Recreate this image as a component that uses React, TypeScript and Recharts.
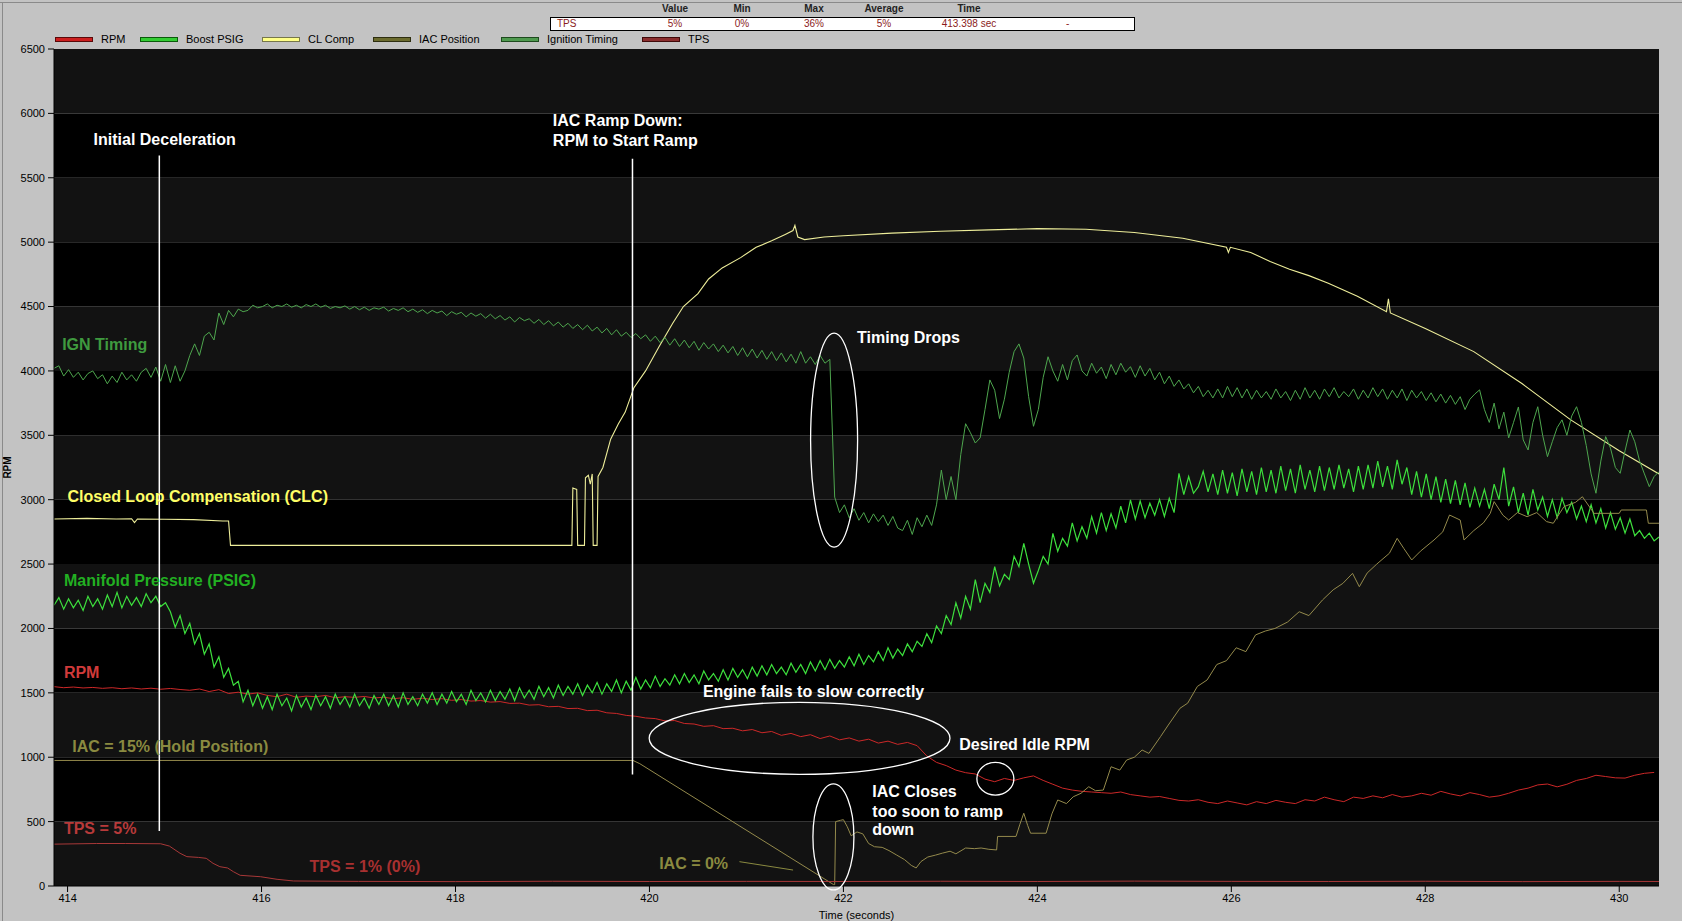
import React from 'react';
import { LineChart, Line, XAxis, YAxis, ReferenceArea, ReferenceLine, ReferenceDot, Label } from 'recharts';

// ---------- data ----------
const T0 = 413.86;
const X_DOMAIN: [number, number] = [413.86, 430.41];
const X_TICKS = [414, 416, 418, 420, 422, 424, 426, 428, 430];
const Y_TICKS = [0, 500, 1000, 1500, 2000, 2500, 3000, 3500, 4000, 4500, 5000, 5500, 6000, 6500];

// Ignition Timing, sampled every 0.05 s from T0
const IGN_STEP = 0.05;
const ignitionTiming = [
  4020, 4040, 3960, 4010, 3950, 3990, 3930, 3980, 4000, 3940,
  3970, 3900, 3960, 3910, 3990, 3930, 3970, 3920, 3990, 4020,
  3950, 4030, 3920, 4050, 3910, 4040, 3920, 4000, 4120, 4210,
  4120, 4270, 4300, 4240, 4450, 4360, 4470, 4420, 4480, 4460,
  4470, 4510, 4490, 4500, 4520, 4490, 4510, 4500, 4520, 4495,
  4510, 4490, 4515, 4500, 4520, 4495, 4510, 4485, 4500, 4490,
  4505, 4480, 4500, 4475, 4495, 4470, 4490, 4480, 4495, 4465,
  4485, 4470, 4490, 4460, 4480, 4455, 4475, 4445, 4470, 4450,
  4465, 4430, 4460, 4440, 4455, 4420, 4450, 4425, 4445, 4410,
  4440, 4405, 4430, 4395, 4420, 4380, 4415, 4390, 4405, 4370,
  4400, 4360, 4390, 4350, 4380, 4340, 4370, 4330, 4360, 4320,
  4355, 4310, 4340, 4295, 4330, 4280, 4320, 4270, 4300, 4260,
  4290, 4250, 4280, 4230, 4270, 4220, 4260, 4200, 4250, 4190,
  4240, 4180, 4230, 4160, 4220, 4170, 4210, 4150, 4200, 4140,
  4190, 4120, 4180, 4110, 4170, 4100, 4160, 4090, 4150, 4080,
  4140, 4070, 4130, 4060, 4150, 4060, 4110, 4050, 4120, 4060,
  4090, 3020, 2900, 2960, 2860, 2930, 2840, 2900, 2820, 2890,
  2830, 2880, 2800, 2870, 2780, 2760, 2840, 2730, 2860, 2790,
  2880, 2800, 2960, 3230, 3000, 3180, 3000, 3350, 3590, 3520,
  3440, 3480, 3700, 3930, 3850, 3630, 3780, 3990, 4150, 4210,
  4100, 3800, 3570, 3700, 3950, 4110, 4000, 3920, 4050, 3930,
  4080, 4124, 4000, 3960, 4060, 3982, 4030, 3940, 4050, 3970,
  4060, 3990, 4033, 3950, 4040, 3960, 4020, 3930, 3990, 3900,
  3960, 3880, 3930, 3860, 3900, 3830, 3880, 3800, 3850, 3790,
  3860, 3790, 3880, 3800, 3870, 3790, 3860, 3780, 3850, 3790,
  3840, 3780, 3860, 3790, 3840, 3770, 3850, 3780, 3870, 3790,
  3850, 3780, 3860, 3800, 3870, 3790, 3840, 3800, 3860, 3780,
  3850, 3790, 3870, 3800, 3860, 3780, 3850, 3790, 3860, 3770,
  3850, 3790, 3840, 3770, 3830, 3760, 3820, 3750, 3810, 3740,
  3800, 3700, 3780, 3820, 3853, 3700, 3600, 3750, 3550, 3680,
  3480, 3600, 3720, 3464, 3386, 3600, 3722, 3500, 3334, 3450,
  3560, 3620, 3500, 3650, 3722, 3600, 3420, 3200, 3050, 3300,
  3490, 3400, 3250, 3205, 3380, 3541, 3450, 3300, 3200, 3101, 3180, 3218,
];

// Boost PSIG (manifold pressure), sampled every 0.05 s from T0
const BOOST_STEP = 0.05;
const boostPsig = [
  2180, 2240, 2150, 2230, 2160, 2220, 2140, 2250, 2170, 2230,
  2150, 2260, 2170, 2280, 2160, 2250, 2180, 2240, 2170, 2270,
  2200, 2250, 2170, 2200, 2130, 2010, 2100, 1960, 2040, 1880,
  1960, 1800, 1880, 1700, 1780, 1620, 1690, 1560, 1590, 1430,
  1520, 1400, 1490, 1380, 1470, 1370, 1490, 1400, 1460, 1360,
  1480, 1390, 1460, 1370, 1480, 1400, 1470, 1380, 1490, 1410,
  1470, 1390, 1490, 1400, 1460, 1380, 1480, 1410, 1490, 1400,
  1480, 1390, 1500, 1410, 1470, 1400, 1490, 1420, 1500, 1410,
  1490, 1420, 1510, 1430, 1490, 1410, 1520, 1440, 1500, 1430,
  1520, 1440, 1510, 1450, 1530, 1440, 1540, 1460, 1520, 1450,
  1550, 1470, 1540, 1460, 1560, 1480, 1550, 1490, 1570, 1480,
  1560, 1500, 1580, 1490, 1570, 1510, 1600, 1500, 1590, 1520,
  1620, 1530, 1600, 1540, 1630, 1550, 1610, 1560, 1640, 1570,
  1650, 1580, 1640, 1570, 1670, 1600, 1650, 1590, 1680, 1600,
  1690, 1620, 1680, 1610, 1700, 1630, 1710, 1640, 1720, 1650,
  1700, 1640, 1730, 1660, 1720, 1650, 1740, 1670, 1750, 1680,
  1760, 1690, 1750, 1700, 1780, 1710, 1800, 1720, 1790, 1740,
  1820, 1750, 1850, 1770, 1840, 1790, 1880, 1820, 1900, 1860,
  1960, 1890, 2020, 1960, 2100, 2030, 2200, 2080, 2250, 2150,
  2380, 2200, 2350, 2280, 2480, 2330, 2420, 2380, 2560, 2480,
  2661, 2500, 2351, 2450, 2560, 2500, 2739, 2600, 2700, 2640,
  2820, 2680, 2790, 2700, 2868, 2740, 2900, 2760, 2890, 2780,
  2950, 2820, 2998, 2850, 2990, 2860, 2972, 2880, 3000, 2870,
  3010, 2900, 3205, 3040, 3180, 3050, 3101, 3220, 3060, 3200,
  3040, 3230, 3050, 3210, 3030, 3240, 3060, 3220, 3040, 3250,
  3060, 3230, 3050, 3260, 3070, 3240, 3050, 3270, 3080, 3230,
  3060, 3260, 3070, 3250, 3080, 3270, 3090, 3240, 3060, 3260,
  3080, 3270, 3090, 3300, 3100, 3260, 3080, 3310, 3120, 3250,
  3040, 3220, 3020, 3200, 3000, 3180, 2980, 3160, 2970, 3150,
  2960, 3130, 2940, 3090, 2950, 3080, 2930, 3120, 3000, 3250,
  2950, 3100, 2900, 3050, 2880, 3080, 2920, 3020, 2870, 3000,
  2860, 3010, 2900, 2980, 2850, 2950, 2830, 2960, 2820, 2930,
  2780, 2900, 2770, 2860, 2740, 2850, 2720, 2760, 2700, 2740, 2680, 2710,
];

// RPM, sampled every 0.1 s from T0
const RPM_STEP = 0.1;
const rpm = [
  1548, 1540, 1545, 1538, 1542, 1535, 1540, 1532, 1538, 1530,
  1536, 1528, 1534, 1526, 1520, 1530, 1510, 1525, 1495, 1505,
  1490, 1500, 1480, 1470, 1490, 1465, 1475, 1470, 1480, 1462,
  1470, 1465, 1472, 1460, 1466, 1455, 1462, 1450, 1458, 1448,
  1455, 1442, 1448, 1436, 1440, 1428, 1432, 1418, 1420, 1405,
  1408, 1392, 1395, 1378, 1380, 1362, 1365, 1345, 1340, 1325,
  1318, 1305, 1300, 1282, 1285, 1262, 1258, 1240, 1245, 1222,
  1225, 1205, 1215, 1190, 1200, 1170, 1185, 1160, 1175, 1145,
  1165, 1135, 1150, 1125, 1140, 1110, 1125, 1100, 1115, 1090,
  1010, 960, 935, 900, 880, 870, 830, 810, 835, 820,
  840, 855, 820, 790, 760, 745, 735, 730, 725, 720,
  730, 710, 700, 690, 695, 680, 665, 660, 670, 650,
  640, 660, 645, 630, 655, 640, 665, 650, 640, 670,
  660, 690, 670, 655, 690, 680, 700, 685, 710, 690,
  700, 720, 705, 735, 715, 700, 725, 710, 690, 700,
  720, 745, 760, 785, 792, 770, 790, 820, 835, 860,
  850, 840, 838, 860, 875, 882,
];

// CL Comp: [time, value]
const clComp: [number, number][] = [
  [413.86, 2850], [414.2, 2855], [414.5, 2850], [414.66, 2852], [414.69, 2822], [414.72, 2850],
  [415.0, 2848], [415.3, 2845], [415.6, 2835], [415.66, 2835], [415.68, 2645], [419.2, 2645],
  [419.21, 3090], [419.25, 3080], [419.26, 2645], [419.33, 2645], [419.34, 3170], [419.37, 3190],
  [419.39, 3120], [419.41, 3200], [419.42, 2645], [419.46, 2645], [419.47, 3180], [419.52, 3250],
  [419.6, 3470], [419.68, 3590], [419.75, 3680], [419.84, 3870], [419.96, 4000], [420.1, 4190],
  [420.24, 4370], [420.35, 4500], [420.5, 4600], [420.61, 4714], [420.75, 4800], [420.94, 4880],
  [421.1, 4960], [421.26, 5010], [421.4, 5060], [421.48, 5090], [421.5, 5130], [421.53, 5040],
  [421.6, 5020], [421.8, 5040], [422.0, 5050], [422.5, 5070], [423.0, 5085], [423.5, 5095],
  [424.0, 5105], [424.5, 5100], [425.0, 5075], [425.5, 5030], [425.95, 4960], [425.97, 4920],
  [425.99, 4960], [426.2, 4920], [426.4, 4850], [426.6, 4790], [426.8, 4740], [427.0, 4680],
  [427.3, 4580], [427.6, 4460], [427.62, 4560], [427.64, 4450], [428.0, 4330], [428.5, 4150],
  [429.0, 3900], [429.5, 3620], [430.0, 3380], [430.41, 3200],
];

// IAC Position: [time, value]
const iacPosition: [number, number][] = [
  [413.86, 975], [419.83, 975], [419.9, 950], [421.9, 10], [421.91, 10], [421.92, 500],
  [421.97, 510], [422.0, 515], [422.04, 460], [422.08, 390], [422.14, 420], [422.2, 405],
  [422.26, 330], [422.32, 305], [422.4, 300], [422.47, 275], [422.55, 240], [422.63, 205],
  [422.7, 160], [422.75, 140], [422.8, 190], [422.87, 225], [422.95, 240], [423.02, 255],
  [423.1, 270], [423.16, 250], [423.26, 295], [423.35, 290], [423.42, 295], [423.5, 285],
  [423.58, 280], [423.59, 385], [423.78, 385], [423.82, 480], [423.86, 565], [423.9, 470],
  [423.93, 410], [424.09, 410], [424.15, 560], [424.21, 668], [424.3, 640], [424.37, 693],
  [424.45, 720], [424.53, 771], [424.6, 740], [424.68, 745], [424.76, 926], [424.85, 900],
  [424.92, 978], [425.0, 1000], [425.08, 1056], [425.15, 1030], [425.27, 1160], [425.35, 1250],
  [425.47, 1380], [425.55, 1420], [425.65, 1550], [425.75, 1600], [425.85, 1720], [425.95, 1750],
  [426.05, 1850], [426.15, 1820], [426.25, 1950], [426.35, 1980], [426.45, 2000], [426.58, 2050],
  [426.7, 2130], [426.8, 2100], [426.94, 2221], [427.05, 2300], [427.15, 2350], [427.25, 2428],
  [427.32, 2324], [427.4, 2430], [427.5, 2500], [427.63, 2584], [427.71, 2700], [427.78, 2620],
  [427.86, 2532], [427.95, 2600], [428.09, 2687], [428.18, 2750], [428.25, 2881], [428.36, 2842],
  [428.4, 2687], [428.5, 2760], [428.6, 2820], [428.67, 2894], [428.71, 2985], [428.8, 2880],
  [428.86, 2842], [428.95, 2900], [429.05, 2868], [429.15, 2900], [429.25, 2830], [429.32, 2817],
  [429.43, 2946], [429.55, 2980], [429.62, 3023], [429.74, 2894], [430.0, 2894], [430.02, 2920],
  [430.28, 2920], [430.3, 2817], [430.41, 2817],
];

// TPS: [time, value]
const tps: [number, number][] = [
  [413.86, 325], [414.3, 330], [414.6, 330], [414.96, 328], [415.05, 310], [415.16, 254],
  [415.23, 228], [415.35, 222], [415.43, 215], [415.5, 176], [415.57, 150], [415.65, 140],
  [415.71, 111], [415.78, 83], [415.99, 72], [416.16, 52], [416.33, 39], [417, 36], [418, 34],
  [419, 37], [420, 35], [421, 36], [422, 35], [423, 37], [424, 35], [425, 38], [426, 36],
  [427, 35], [428, 37], [429, 34], [430, 36], [430.41, 35],
];

// stats box
const STAT_HEADERS = ['Value', 'Min', 'Max', 'Average', 'Time'];
const STAT_ROW = { name: 'TPS', values: ['5%', '0%', '36%', '5%', '413.398 sec'], extra: '-' };

// ---------- build ----------
const sampled = (vals: number[], step: number) => vals.map((v, i) => ({ t: +(T0 + i * step).toFixed(3), v }));
const pairs = (arr: [number, number][]) => arr.map(([t, v]) => ({ t, v }));

const SERIES = [
  { name: 'RPM', color: '#cc2828', swatch: '#cc1f1f', border: '#5a0a0a', data: sampled(rpm, RPM_STEP), w: 1 },
  { name: 'Boost PSIG', color: '#3de03d', swatch: '#33cc33', border: '#0a5a0a', data: sampled(boostPsig, BOOST_STEP), w: 1.2 },
  { name: 'CL Comp', color: '#eeee9a', swatch: '#ffff88', border: '#77774a', data: pairs(clComp), w: 1.1 },
  { name: 'IAC Position', color: '#948a4c', swatch: '#6b6b2e', border: '#2e2e10', data: pairs(iacPosition), w: 1 },
  { name: 'Ignition Timing', color: '#4ea64e', swatch: '#4f9a4f', border: '#1e4a1e', data: sampled(ignitionTiming, IGN_STEP), w: 1 },
  { name: 'TPS', color: '#a83838', swatch: '#8b2e2e', border: '#400a0a', data: pairs(tps), w: 1 },
];

const FONT = "'Liberation Sans', Arial, sans-serif";

// annotations in data coordinates
const TEXTS: { t: number; v: number; text: string; color: string }[] = [
  { t: 414.268, v: 5799, text: 'Initial Deceleration', color: '#ffffff' },
  { t: 419.004, v: 5941, text: 'IAC Ramp Down:', color: '#ffffff' },
  { t: 419.004, v: 5790, text: 'RPM to Start Ramp', color: '#ffffff' },
  { t: 422.141, v: 4258, text: 'Timing Drops', color: '#ffffff' },
  { t: 413.944, v: 4207, text: 'IGN Timing', color: '#3f9a3f' },
  { t: 414.0, v: 3023, text: 'Closed Loop Compensation (CLC)', color: '#ffff66' },
  { t: 413.963, v: 2369, text: 'Manifold Pressure (PSIG)', color: '#22b022' },
  { t: 413.962, v: 1660, text: 'RPM', color: '#d03a3a' },
  { t: 414.048, v: 1082, text: 'IAC = 15% (Hold Position)', color: '#8a8a40' },
  { t: 413.962, v: 443, text: 'TPS = 5%', color: '#b83a3a' },
  { t: 416.495, v: 148, text: 'TPS = 1% (0%)', color: '#a83030' },
  { t: 420.551, v: 1509, text: 'Engine fails to slow correctly', color: '#ffffff' },
  { t: 423.194, v: 1100, text: 'Desired Idle RPM', color: '#ffffff' },
  { t: 422.298, v: 732, text: 'IAC Closes', color: '#ffffff' },
  { t: 422.298, v: 582, text: 'too soon to ramp', color: '#ffffff' },
  { t: 422.298, v: 440, text: 'down', color: '#ffffff' },
  { t: 420.1, v: 176, text: 'IAC = 0%', color: '#8a8a40' },
];
const ELLIPSES = [
  { t: 421.904, v: 3462, rx: 23.5, ry: 107 },
  { t: 421.548, v: 1147, rx: 150.4, ry: 36 },
  { t: 423.567, v: 833, rx: 18.5, ry: 16.3 },
  { t: 421.897, v: 381, rx: 20.5, ry: 53 },
];
const MARKER_LINES = [
  { x1: 414.946, y1: 427, x2: 414.946, y2: 5673, color: '#ffffff', w: 1.5 },
  { x1: 419.825, y1: 866, x2: 419.825, y2: 5647, color: '#ffffff', w: 1.5 },
  { x1: 420.928, y1: 189, x2: 421.481, y2: 124, color: '#8a8a40', w: 1 },
];

// layout of the legend row and the stats box (pixels)
const LEGEND_LEFT = [55, 140, 262, 373, 501, 642];
const STAT_CENTER = [675, 742, 814, 884, 969];

export default function App() {
  return (
    <div style={{ position: 'absolute', left: 0, top: 0, width: 1682, height: 921, background: '#c3c3c3', overflow: 'hidden' }}>
      <div style={{ position: 'absolute', left: 0, top: 2, width: 1682, height: 1, background: '#8a8a8a' }} />
      <div style={{ position: 'absolute', left: 2, top: 2, width: 1, height: 919, background: '#8a8a8a' }} />
      <LineChart width={1682} height={921} margin={{ top: 49, right: 23, bottom: 0, left: 8 }}>
        <XAxis
          dataKey="t"
          type="number"
          domain={X_DOMAIN}
          allowDataOverflow
          ticks={X_TICKS}
          tickSize={6}
          tickMargin={2}
          height={35}
          tick={{ fill: '#000', fontSize: 11, fontFamily: FONT }}
          tickLine={{ stroke: '#000' }}
          axisLine={{ stroke: '#000' }}
        >
          <Label value="Time (seconds)" position="insideBottom" offset={2} style={{ fill: '#000', fontSize: 11, fontFamily: FONT }} />
        </XAxis>
        <YAxis
          type="number"
          domain={[0, 6500]}
          allowDataOverflow
          ticks={Y_TICKS}
          width={46}
          tickSize={6}
          tickMargin={3}
          tick={{ fill: '#000', fontSize: 11, fontFamily: FONT }}
          tickLine={{ stroke: '#000' }}
          axisLine={{ stroke: '#000' }}
        >
          <Label
            content={(p: any) => {
              const vb = p.viewBox || { x: 8, y: 49, width: 46, height: 837 };
              const cx = 7;
              const cy = vb.y + vb.height / 2;
              return (
                <text x={cx} y={cy} transform={`rotate(-90 ${cx} ${cy})`} textAnchor="middle" dominantBaseline="central" fontSize={10} fontWeight="bold" fontFamily={FONT} fill="#000">
                  RPM
                </text>
              );
            }}
          />
        </YAxis>
        {Y_TICKS.slice(0, -1).map((lo, i) => (
          <ReferenceArea key={'band' + lo} y1={lo} y2={Y_TICKS[i + 1]} x1={X_DOMAIN[0]} x2={X_DOMAIN[1]} fill={i % 2 === 0 ? '#121212' : '#000000'} fillOpacity={1} stroke="none" />
        ))}
        {SERIES.map((s) => (
          <Line key={s.name} data={s.data} dataKey="v" name={s.name} type="linear" stroke={s.color} strokeWidth={s.w} dot={false} activeDot={false} isAnimationActive={false} />
        ))}
        {MARKER_LINES.map((m, i) => (
          <ReferenceLine key={'ml' + i} segment={[{ x: m.x1, y: m.y1 }, { x: m.x2, y: m.y2 }]} stroke={m.color} strokeWidth={m.w} ifOverflow="visible" />
        ))}
        {ELLIPSES.map((e, i) => (
          <ReferenceDot
            key={'el' + i}
            x={e.t}
            y={e.v}
            r={1}
            ifOverflow="visible"
            shape={(p: any) => <ellipse cx={p.cx} cy={p.cy} rx={e.rx} ry={e.ry} fill="none" stroke="#ffffff" strokeWidth={1.3} />}
          />
        ))}
        {TEXTS.map((a, i) => (
          <ReferenceDot
            key={'tx' + i}
            x={a.t}
            y={a.v}
            r={1}
            ifOverflow="visible"
            shape={(p: any) => (
              <text x={p.cx} y={p.cy} fill={a.color} fontSize={16} fontWeight="bold" fontFamily={FONT} dominantBaseline="central">
                {a.text}
              </text>
            )}
          />
        ))}
      </LineChart>

      {/* legend */}
      {SERIES.map((s, i) => (
        <div key={'lg' + s.name} style={{ position: 'absolute', left: LEGEND_LEFT[i], top: 31, height: 16, display: 'flex', alignItems: 'center', fontFamily: FONT, fontSize: 11, color: '#000', whiteSpace: 'nowrap' }}>
          <div style={{ width: 36, height: 3, background: s.swatch, border: `1px solid ${s.border}`, marginRight: 8 }} />
          <span>{s.name}</span>
        </div>
      ))}

      {/* stats box */}
      {STAT_HEADERS.map((h, i) => (
        <div key={'hd' + h} style={{ position: 'absolute', left: STAT_CENTER[i] - 40, width: 80, top: 3, textAlign: 'center', fontFamily: FONT, fontSize: 10, fontWeight: 'bold', color: '#222' }}>
          {h}
        </div>
      ))}
      <div style={{ position: 'absolute', left: 550, top: 17, width: 583, height: 12, background: '#fff', border: '1px solid #000' }} />
      <div style={{ position: 'absolute', left: 557, top: 17, fontFamily: FONT, fontSize: 10, color: '#8b1c1c', lineHeight: '14px' }}>{STAT_ROW.name}</div>
      {STAT_ROW.values.map((v, i) => (
        <div key={'sv' + i} style={{ position: 'absolute', left: STAT_CENTER[i] - 40, width: 80, top: 17, textAlign: 'center', fontFamily: FONT, fontSize: 10, color: '#8b1c1c', lineHeight: '14px' }}>
          {v}
        </div>
      ))}
      <div style={{ position: 'absolute', left: 1066, top: 17, fontFamily: FONT, fontSize: 10, color: '#8b1c1c', lineHeight: '14px' }}>{STAT_ROW.extra}</div>
    </div>
  );
}
